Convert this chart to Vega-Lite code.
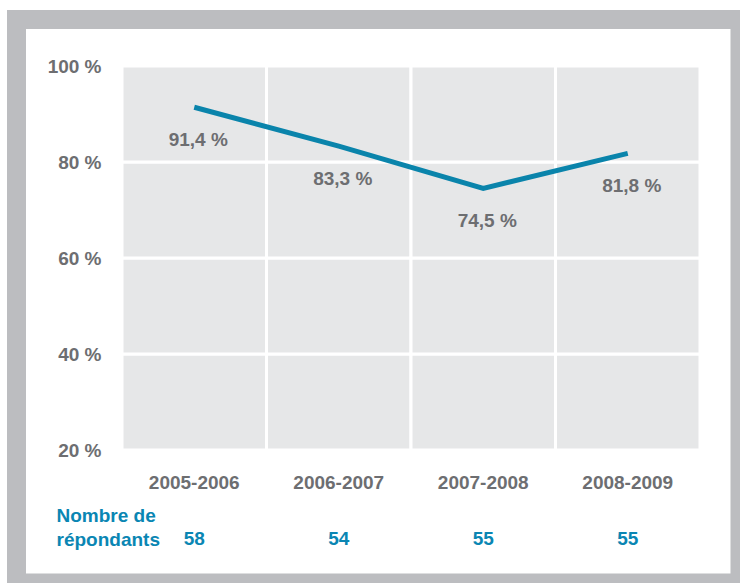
{
  "$schema": "https://vega.github.io/schema/vega-lite/v6.json",
  "width": 723.5,
  "height": 563.5,
  "autosize": {"type": "none"},
  "padding": {"left": 16.5, "top": 19.5, "right": 0, "bottom": 0},
  "background": "#ffffff",
  "view": {"fill": "#ffffff", "stroke": "#bcbdc0", "strokeWidth": 19},
  "config": {
    "locale": {"number": {"decimal": ",", "thousands": "\u00a0", "grouping": [3], "currency": ["", "\u00a0€"], "percent": "\u00a0%"}},
    "font": "Liberation Sans, Arial, sans-serif"
  },
  "datasets": {
    "donnees": [
      {"periode": "2005-2006", "taux": 0.914, "repondants": 58},
      {"periode": "2006-2007", "taux": 0.833, "repondants": 54},
      {"periode": "2007-2008", "taux": 0.745, "repondants": 55},
      {"periode": "2008-2009", "taux": 0.818, "repondants": 55}
    ],
    "grille": [
      {"periode": "2005-2006", "bas": 0.2, "haut": 0.4},
      {"periode": "2005-2006", "bas": 0.4, "haut": 0.6},
      {"periode": "2005-2006", "bas": 0.6, "haut": 0.8},
      {"periode": "2005-2006", "bas": 0.8, "haut": 1.0},
      {"periode": "2006-2007", "bas": 0.2, "haut": 0.4},
      {"periode": "2006-2007", "bas": 0.4, "haut": 0.6},
      {"periode": "2006-2007", "bas": 0.6, "haut": 0.8},
      {"periode": "2006-2007", "bas": 0.8, "haut": 1.0},
      {"periode": "2007-2008", "bas": 0.2, "haut": 0.4},
      {"periode": "2007-2008", "bas": 0.4, "haut": 0.6},
      {"periode": "2007-2008", "bas": 0.6, "haut": 0.8},
      {"periode": "2007-2008", "bas": 0.8, "haut": 1.0},
      {"periode": "2008-2009", "bas": 0.2, "haut": 0.4},
      {"periode": "2008-2009", "bas": 0.4, "haut": 0.6},
      {"periode": "2008-2009", "bas": 0.6, "haut": 0.8},
      {"periode": "2008-2009", "bas": 0.8, "haut": 1.0}
    ]
  },
  "layer": [
    {
      "data": {"name": "grille"},
      "mark": {"type": "rect", "fill": "#e6e7e8", "stroke": "#ffffff", "strokeWidth": 3},
      "encoding": {
        "x": {
          "field": "periode", "type": "nominal", "sort": null,
          "scale": {"type": "band", "paddingInner": 0, "paddingOuter": 0.50346, "align": 0.7251},
          "axis": {
            "orient": "bottom", "offset": -110, "domain": false, "ticks": false, "grid": false,
            "labelPadding": 0, "labelAngle": 0, "labelFont": "Liberation Sans, Arial, sans-serif",
            "labelFontSize": 19, "labelFontWeight": "bold", "labelColor": "#6d6e71",
            "title": ["Nombre de", "répondants"], "titleFontSize": 19, "titleFontWeight": "bold", "titleColor": "#0a86b3",
            "titleFont": "Liberation Sans, Arial, sans-serif",
            "titleAlign": "left", "titleAnchor": "start", "titleAngle": 0, "titleBaseline": "alphabetic",
            "titleX": 39.5, "titleY": 48.5, "titleLineHeight": 24
          }
        },
        "y": {
          "field": "bas", "type": "quantitative", "title": null,
          "scale": {"domain": [-0.07708, 1.096875], "nice": false, "zero": false},
          "axis": {
            "orient": "left", "offset": -84.5, "domain": false, "ticks": false, "grid": false,
            "values": [0.2, 0.4, 0.6, 0.8, 1.0], "format": ".0%", "labelPadding": 0,
            "labelFont": "Liberation Sans, Arial, sans-serif",
            "labelFontSize": 19, "labelFontWeight": "bold", "labelColor": "#6d6e71"
          }
        },
        "y2": {"field": "haut"}
      }
    },
    {
      "data": {"name": "donnees"},
      "mark": {"type": "line", "color": "#0a84ab", "strokeWidth": 5},
      "encoding": {
        "x": {"field": "periode", "type": "nominal", "sort": null},
        "y": {"field": "taux", "type": "quantitative", "title": null}
      }
    },
    {
      "data": {"name": "donnees"},
      "mark": {"type": "text", "color": "#6d6e71", "fontSize": 19, "fontWeight": "bold", "baseline": "middle", "align": "center", "dx": 4, "dy": 33},
      "encoding": {
        "x": {"field": "periode", "type": "nominal", "sort": null},
        "y": {"field": "taux", "type": "quantitative", "title": null},
        "text": {"field": "taux", "type": "quantitative", "format": ".1%"}
      }
    },
    {
      "data": {"name": "donnees"},
      "mark": {"type": "text", "color": "#0a86b3", "fontSize": 19, "fontWeight": "bold", "baseline": "middle", "align": "center"},
      "encoding": {
        "x": {"field": "periode", "type": "nominal", "sort": null},
        "y": {"datum": 0.0146, "type": "quantitative"},
        "text": {"field": "repondants", "type": "quantitative"}
      }
    }
  ]
}
